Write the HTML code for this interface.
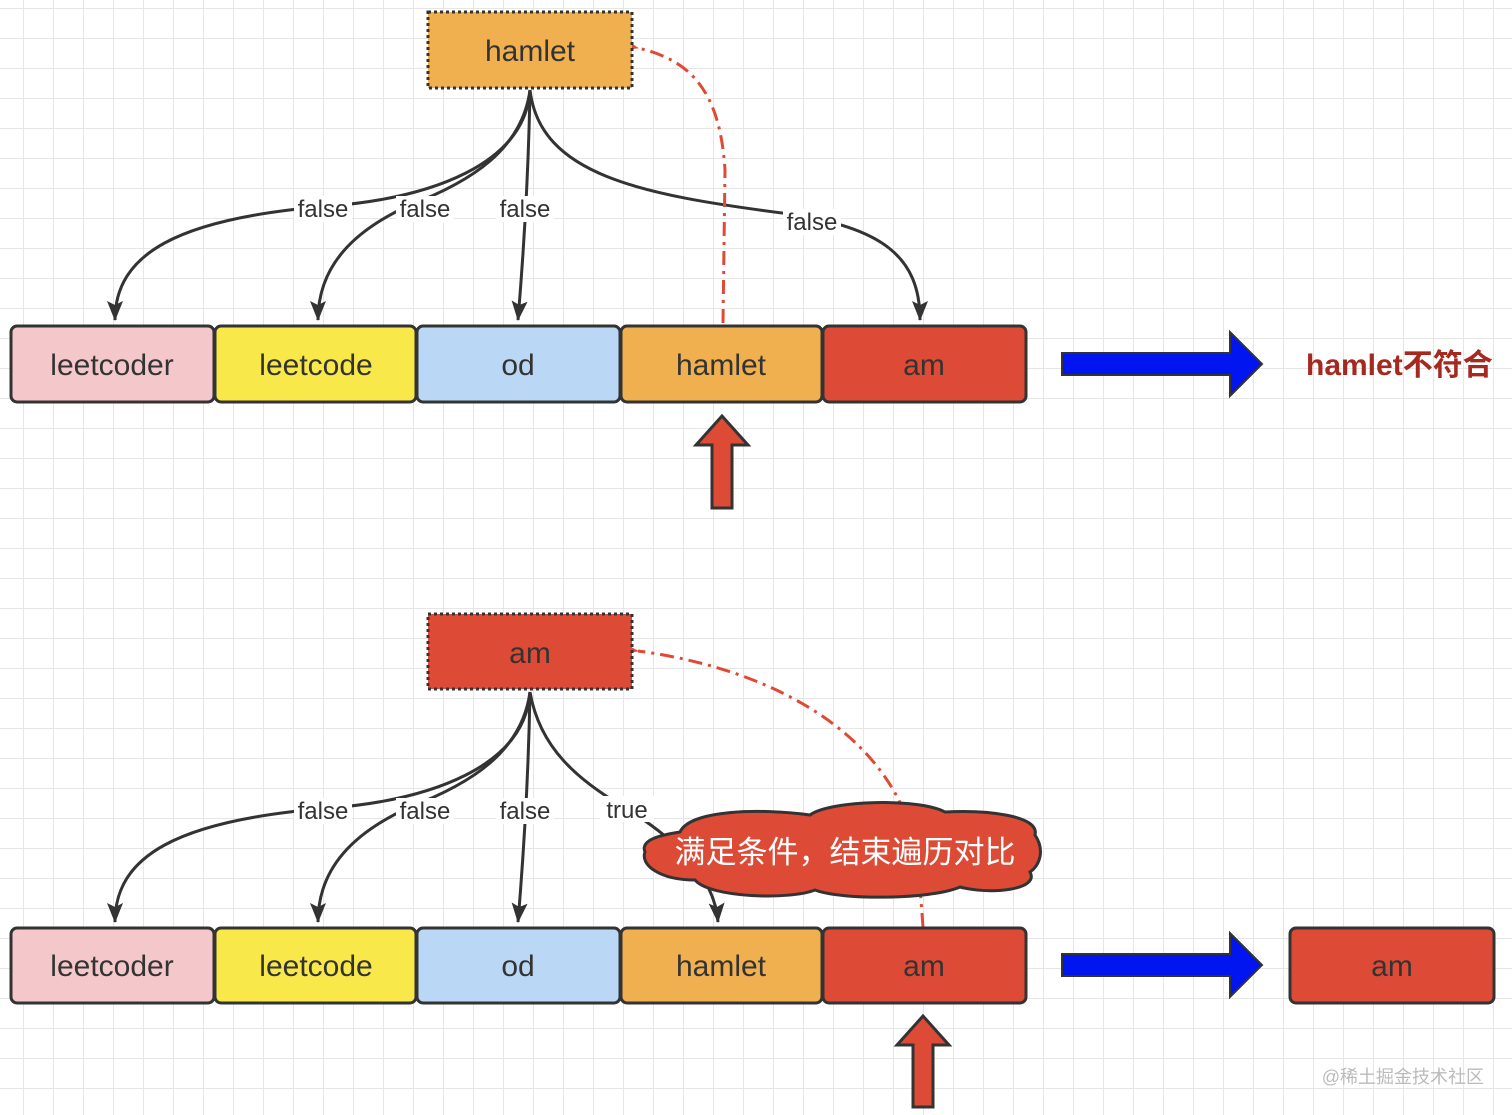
<!DOCTYPE html>
<html><head><meta charset="utf-8"><style>
html,body{margin:0;padding:0;background:#fff;}
svg{display:block}
text{font-family:"Liberation Sans","Noto Sans CJK SC",sans-serif;}
</style></head><body>
<svg width="1512" height="1115" viewBox="0 0 1512 1115" xmlns="http://www.w3.org/2000/svg">
<defs>
<pattern id="g" x="23" y="8" width="30" height="30" patternUnits="userSpaceOnUse">
<path d="M0 0H30M0 0V30" stroke="#e6e6e6" stroke-width="2" fill="none"/>
</pattern>
<marker id="ah" markerWidth="10" markerHeight="14" refX="9" refY="7" orient="auto" markerUnits="userSpaceOnUse">
<path d="M0,0 L10,7 L0,14 Z" fill="#333" transform="scale(1)"/>
</marker>
<marker id="ab" viewBox="0 0 20 16" markerWidth="20" markerHeight="16" refX="19" refY="8" orient="auto" markerUnits="userSpaceOnUse">
<path d="M0,0 L20,8 L0,16 L4,8 Z" fill="#333"/>
</marker>
<marker id="ar" viewBox="0 0 22 16" markerWidth="22" markerHeight="16" refX="1" refY="8" orient="auto" markerUnits="userSpaceOnUse">
<path d="M22,0 L0,8 L22,16 L17,8 Z" fill="#e04a35"/>
</marker>
</defs>
<rect width="1512" height="1115" fill="url(#g)"/>

<!-- TOP DIAGRAM -->
<g fill="none" stroke="#333" stroke-width="3">
<path d="M530,90 C525,165 430,198 330,206 C175,218 115,255 115,320" marker-end="url(#ab)"/>
<path d="M530,90 C522,150 470,182 410,205 C355,230 318,265 318,320" marker-end="url(#ab)"/>
<path d="M530,90 Q528,200 518,320" marker-end="url(#ab)"/>
<path d="M530,90 C540,175 640,195 790,214 C880,228 920,255 920,320" marker-end="url(#ab)"/>
</g>
<path d="M723,323 L725,170 C720,90 690,60 638,48" fill="none" stroke="#e04a35" stroke-width="3" stroke-dasharray="14,6,3,6" marker-end="url(#ar)"/>
<g font-size="24" fill="#333" text-anchor="middle">
<rect x="294" y="196" width="58" height="26" fill="#fff"/><text x="323" y="217">false</text>
<rect x="396" y="196" width="58" height="26" fill="#fff"/><text x="425" y="217">false</text>
<rect x="496" y="196" width="58" height="26" fill="#fff"/><text x="525" y="217">false</text>
<rect x="783" y="209" width="58" height="26" fill="#fff"/><text x="812" y="230">false</text>
</g>
<rect x="428" y="12" width="204" height="76" fill="#f0b050" stroke="#333" stroke-width="3" stroke-dasharray="3,3"/>
<text x="530" y="61" font-size="30" fill="#333" text-anchor="middle">hamlet</text>

<g stroke="#333" stroke-width="3">
<rect x="11" y="326" width="203" height="76" rx="6" fill="#f4c7cb"/>
<rect x="215" y="326" width="201" height="76" rx="6" fill="#f8e84a"/>
<rect x="417" y="326" width="203" height="76" rx="6" fill="#bad8f5"/>
<rect x="621" y="326" width="201" height="76" rx="6" fill="#f0b050"/>
<rect x="823" y="326" width="203" height="76" rx="6" fill="#dd4b36"/>
</g>
<g font-size="30" fill="#333" text-anchor="middle">
<text x="112" y="375">leetcoder</text><text x="316" y="375">leetcode</text><text x="518" y="375">od</text><text x="721" y="375">hamlet</text><text x="924" y="375">am</text>
</g>
<path d="M1062,353 H1230 V332 L1262,364 L1230,396 V375 H1062 Z" fill="#0015f0" stroke="#333" stroke-width="2"/>
<text x="1306" y="375" font-size="30" font-weight="bold" fill="#a5291e">hamlet不符合</text>
<path d="M722,416 L748,445 L732,445 L732,508 L712,508 L712,445 L696,445 Z" fill="#dd4b36" stroke="#333" stroke-width="3"/>

<!-- BOTTOM DIAGRAM -->
<g fill="none" stroke="#333" stroke-width="3">
<path d="M530,692 C525,767 430,800 330,808 C175,820 115,857 115,922" marker-end="url(#ab)"/>
<path d="M530,692 C522,752 470,784 410,807 C355,832 318,867 318,922" marker-end="url(#ab)"/>
<path d="M530,692 Q528,802 518,922" marker-end="url(#ab)"/>
<path d="M530,692 C540,750 580,780 620,805 C680,840 715,880 718,922" marker-end="url(#ab)"/>
</g>
<path d="M923,927 L918,860 C900,740 780,670 638,651" fill="none" stroke="#e04a35" stroke-width="3" stroke-dasharray="14,6,3,6" marker-end="url(#ar)"/>
<g font-size="24" fill="#333" text-anchor="middle">
<rect x="294" y="798" width="58" height="26" fill="#fff"/><text x="323" y="819">false</text>
<rect x="396" y="798" width="58" height="26" fill="#fff"/><text x="425" y="819">false</text>
<rect x="496" y="798" width="58" height="26" fill="#fff"/><text x="525" y="819">false</text>
<rect x="600" y="796" width="54" height="26" fill="#fff"/><text x="627" y="818">true</text>
</g>
<rect x="428" y="614" width="204" height="75" fill="#dd4b36" stroke="#333" stroke-width="3" stroke-dasharray="3,3"/>
<text x="530" y="663" font-size="30" fill="#333" text-anchor="middle">am</text>

<!-- cloud -->
<path d="M680,832 C690,810 760,808 810,815 C830,800 920,798 945,812 C985,810 1040,815 1035,835 C1045,850 1040,865 1030,872 C1040,890 990,895 960,887 C930,900 840,900 815,890 C790,900 710,898 695,880 C660,880 640,865 645,852 C640,840 660,835 680,832 Z" fill="#dd4b36" stroke="#333" stroke-width="3"/>
<text x="845" y="863" font-size="31" fill="#fff" text-anchor="middle">满足条件，结束遍历对比</text>

<g stroke="#333" stroke-width="3">
<rect x="11" y="928" width="203" height="75" rx="6" fill="#f4c7cb"/>
<rect x="215" y="928" width="201" height="75" rx="6" fill="#f8e84a"/>
<rect x="417" y="928" width="203" height="75" rx="6" fill="#bad8f5"/>
<rect x="621" y="928" width="201" height="75" rx="6" fill="#f0b050"/>
<rect x="823" y="928" width="203" height="75" rx="6" fill="#dd4b36"/>
<rect x="1290" y="928" width="204" height="75" rx="6" fill="#dd4b36"/>
</g>
<g font-size="30" fill="#333" text-anchor="middle">
<text x="112" y="976">leetcoder</text><text x="316" y="976">leetcode</text><text x="518" y="976">od</text><text x="721" y="976">hamlet</text><text x="924" y="976">am</text><text x="1392" y="976">am</text>
</g>
<path d="M1062,954 H1230 V933 L1262,965 L1230,997 V976 H1062 Z" fill="#0015f0" stroke="#333" stroke-width="2"/>
<path d="M923,1016 L949,1045 L933,1045 L933,1107 L913,1107 L913,1045 L897,1045 Z" fill="#dd4b36" stroke="#333" stroke-width="3"/>
<text x="1484" y="1083" font-size="18" fill="#bbb" text-anchor="end">@稀土掘金技术社区</text>
</svg>
</body></html>
